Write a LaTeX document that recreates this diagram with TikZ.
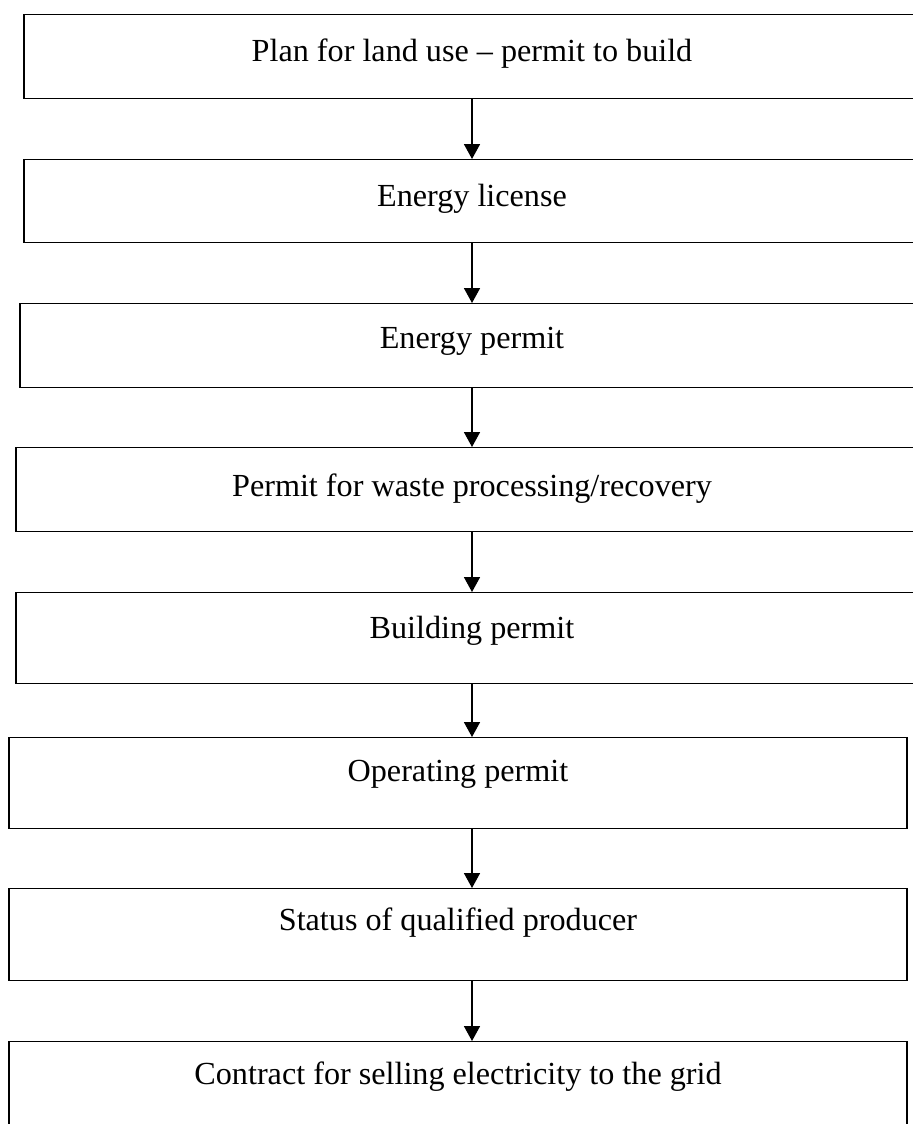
\documentclass[tikz,border=0pt]{standalone}
\usepackage{fontspec}
\setmainfont{Liberation Serif}
\usepackage{tikz}
\usetikzlibrary{arrows.meta}
\newdimen\pxu
\pxu=0.36364pt

\begin{document}
\begin{tikzpicture}
		[   x=\pxu, y=-\pxu,
			bnode/.style={draw=black,line width=0.5pt,fill=white,anchor=north,
				minimum width=#1\pxu,inner ysep=0pt,text height=47\pxu,
				font=\fontsize{11.7}{14}\selectfont},
		]
		\tikzset{normal arrow/.style={draw,line width=0.5pt,-{Triangle[width=5.8pt,length=5.4pt]}}}
		\useasboundingbox (0,0) rectangle (912,1124);
		
		\node[bnode=896,text depth=37\pxu] (b-1) at (472,14) {Plan for land use -- permit to build};
		\node[bnode=896,text depth=36\pxu] (b-2) at (472,159) {Energy license};
		\node[bnode=904,text height=45\pxu,text depth=39\pxu] (b-3) at (472,303) {Energy permit};
		\node[bnode=912,text height=49\pxu,text depth=35\pxu] (b-4) at (472,447) {Permit for waste processing/recovery};
		\node[bnode=912,text height=46\pxu,text depth=45\pxu] (b-5) at (472,592) {Building permit};
		
		\node[bnode=898,text height=44\pxu,text depth=47\pxu] (b-6) at (458,737) {Operating permit};
		\node[bnode=898,text height=42\pxu,text depth=50\pxu] (b-7) at (458,888) {Status of qualified producer};
		\node[bnode=898,text height=43\pxu,text depth=48\pxu] (b-8) at (458,1041) {Contract for selling electricity to the grid};
		
		% arrows all run down one column
		\coordinate (axis) at (472,0);
		
		\foreach \x [evaluate=\x as \y using int(\x+1)] in {1,...,7}
		{   
			\path[normal arrow] (b-\x.south -| axis) -- (b-\y.north -| axis); 
		}
		
\end{tikzpicture}
\end{document}
